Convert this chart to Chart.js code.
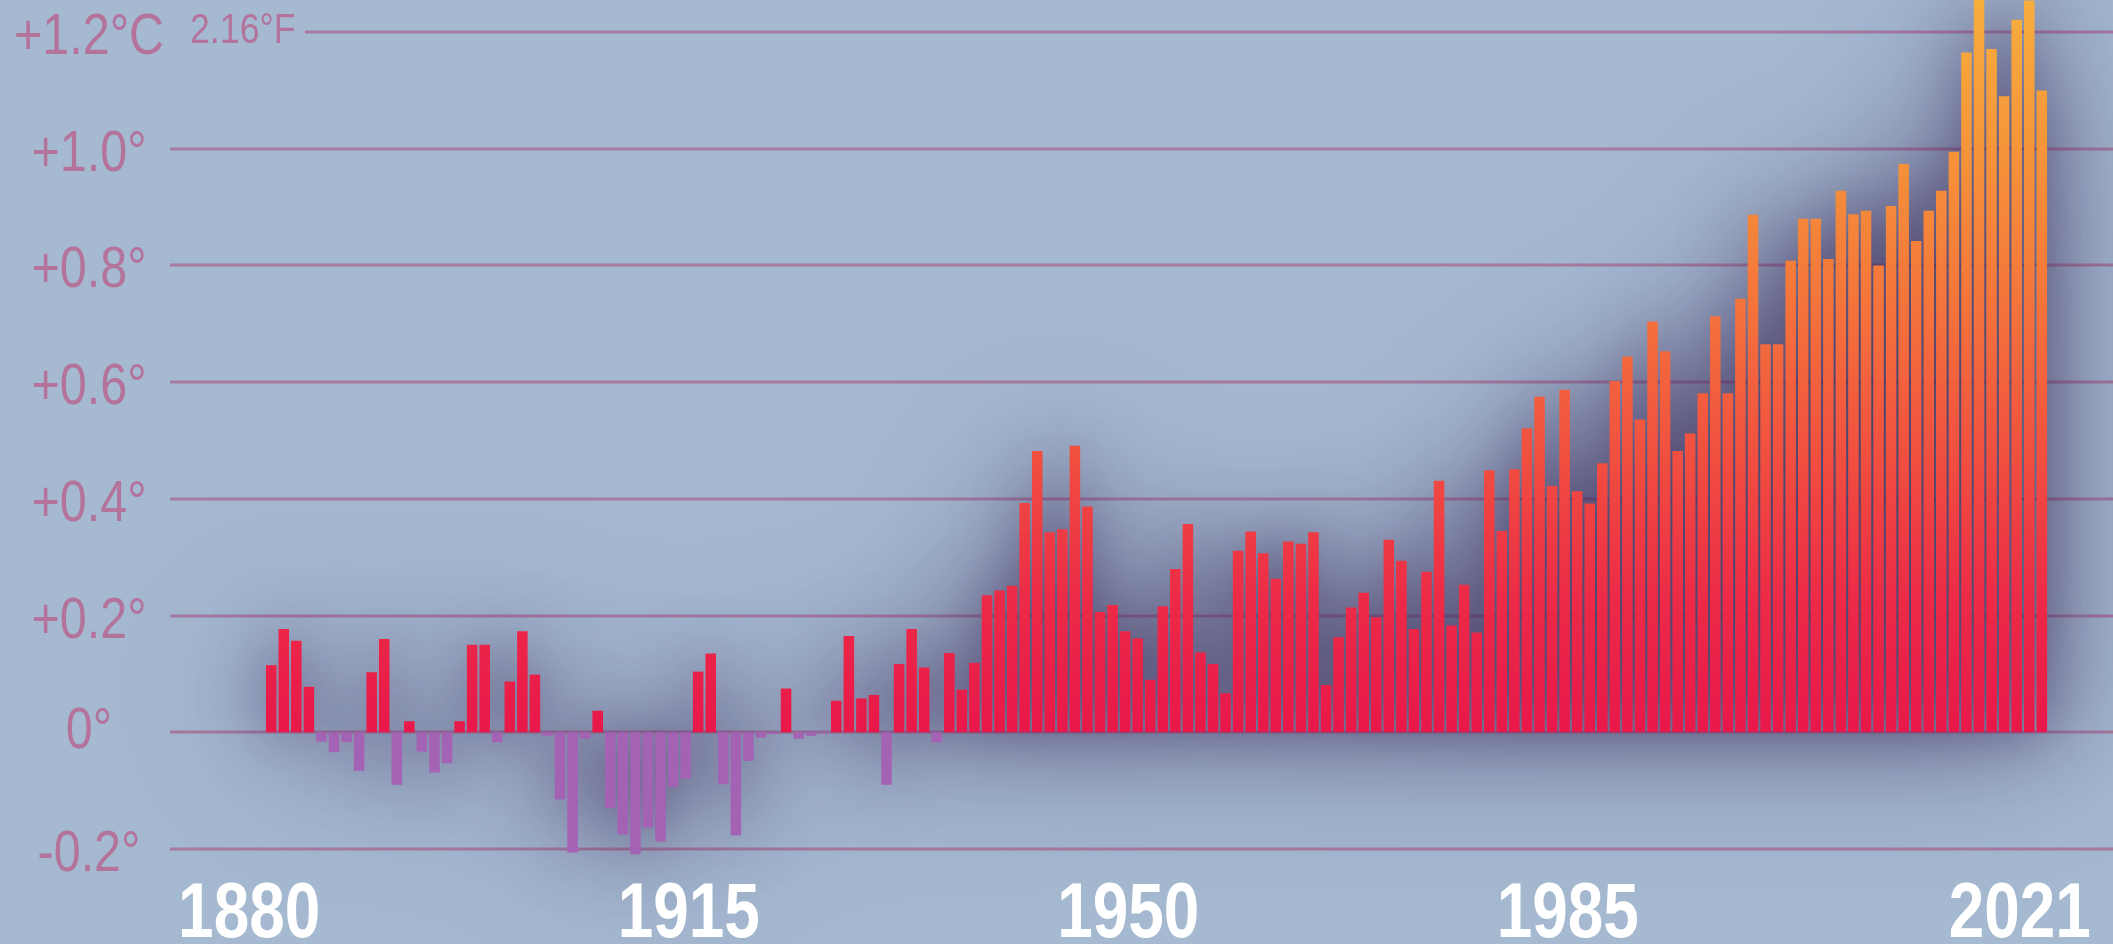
<!DOCTYPE html>
<html>
<head>
<meta charset="utf-8">
<script src="https://cdn.jsdelivr.net/npm/chart.js@4.4.1/dist/chart.umd.min.js"></script>
<style>
  html, body { margin: 0; padding: 0; background: #a5b9d1; overflow: hidden; }
  #wrap { width: 2113px; height: 944px; }
</style>
</head>
<body>
<div id="wrap"><canvas id="tempChart" width="2113" height="944"></canvas></div>
<script>
// yearly anomaly, degrees C, 1880..2021
const firstYear = 1880;
const anomalies = [
  0.115, 0.177, 0.157, 0.078, -0.016, -0.034, -0.017, -0.066, 0.103, 0.160,   // 1880s
  -0.090, 0.019, -0.033, -0.069, -0.053, 0.019, 0.150, 0.150, -0.017, 0.087,  // 1890s
  0.173, 0.099, -0.006, -0.115, -0.206, -0.011, 0.037, -0.130, -0.175, -0.209, // 1900s
  -0.163, -0.187, -0.094, -0.079, 0.104, 0.135, -0.089, -0.177, -0.049, -0.009, // 1910s
  -0.003, 0.075, -0.011, -0.006, -0.002, 0.054, 0.165, 0.058, 0.064, -0.090,  // 1920s
  0.117, 0.177, 0.111, -0.017, 0.136, 0.073, 0.119, 0.235, 0.243, 0.251,      // 1930s
  0.393, 0.482, 0.343, 0.348, 0.491, 0.387, 0.206, 0.218, 0.173, 0.161,      // 1940s
  0.090, 0.216, 0.280, 0.357, 0.137, 0.117, 0.067, 0.311, 0.344, 0.307,      // 1950s
  0.263, 0.327, 0.323, 0.343, 0.081, 0.163, 0.214, 0.239, 0.197, 0.330,      // 1960s
  0.294, 0.177, 0.275, 0.431, 0.183, 0.253, 0.171, 0.449, 0.345, 0.451,      // 1970s
  0.521, 0.575, 0.422, 0.587, 0.413, 0.392, 0.461, 0.602, 0.644, 0.536,      // 1980s
  0.704, 0.653, 0.482, 0.512, 0.581, 0.713, 0.581, 0.743, 0.887, 0.665,      // 1990s
  0.665, 0.808, 0.880, 0.880, 0.811, 0.928, 0.888, 0.894, 0.800, 0.902,      // 2000s
  0.974, 0.842, 0.894, 0.928, 0.995, 1.165, 1.260, 1.171, 1.090, 1.221,      // 2010s
  1.254, 1.100                                                               // 2020s
];
const years = anomalies.map((_, i) => firstYear + i);

const labelYears = [1880, 1915, 1950, 1985, 2021];
const tickValues = [-0.2, 0, 0.2, 0.4, 0.6, 0.8, 1.0, 1.2];
const tickLabels = ['-0.2°', '0°', '+0.2°', '+0.4°', '+0.6°', '+0.8°', '+1.0°', '+1.2°C'];
const topNote = '2.16°F';

const sans = "'Liberation Sans', Arial, sans-serif";
const labelColor = '#b3739b';
const gridColor = 'rgba(166,112,150,0.85)';
const coolColor = '#a462b4';
const warmStops = [[0, '#e8184a'], [0.18, '#ec2a47'], [0.35, '#f04a40'], [0.6, '#f4763b'], [0.8, '#f5943a'], [1, '#f7ae3d']];

let warmGradient = null;
function barColor(c) {
  const v = c.parsed ? c.parsed.y : 0;
  if (v < 0) return coolColor;
  const { chart } = c;
  if (!chart.chartArea) return warmStops[0][1];
  if (!warmGradient) {
    const y = chart.scales.y;
    warmGradient = chart.ctx.createLinearGradient(0, y.getPixelForValue(0), 0, y.getPixelForValue(1.25));
    warmStops.forEach(([p, col]) => warmGradient.addColorStop(p, col));
  }
  return warmGradient;
}

// condensed text: squeeze the glyphs horizontally around (x, y)
function narrowText(ctx, text, x, y, squeeze, align) {
  ctx.save();
  ctx.translate(x, y);
  ctx.scale(squeeze, 1);
  ctx.textAlign = align;
  ctx.fillText(text, 0, 0);
  ctx.restore();
}

// grid lines and the dark glow behind the bars
const backdrop = {
  id: 'backdrop',
  beforeDatasetsDraw(chart) {
    const { ctx, width } = chart;
    const y = chart.scales.y;
    ctx.save();
    ctx.strokeStyle = gridColor;
    ctx.lineWidth = 3;
    y.ticks.forEach((t) => {
      const py = Math.round(y.getPixelForValue(t.value));
      const x0 = t.value === 1.2 ? 305 : chart.chartArea.left;
      ctx.beginPath();
      ctx.moveTo(x0, py);
      ctx.lineTo(width, py);
      ctx.stroke();
    });

    const meta = chart.getDatasetMeta(0);
    const shift = 10000;
    ctx.shadowOffsetX = shift;
    ctx.fillStyle = '#000';
    ctx.beginPath();
    meta.data.forEach((bar) => {
      const top = Math.min(bar.y, bar.base);
      ctx.rect(bar.x - bar.width / 2 - shift, top, bar.width, Math.abs(bar.base - bar.y));
    });
    // wide soft glow, then a tighter darker one
    [[150, 'rgba(58,40,86,0.7)'], [60, 'rgba(58,40,86,0.6)']].forEach(([blur, col]) => {
      ctx.shadowBlur = blur;
      ctx.shadowColor = col;
      ctx.fill();
    });
    ctx.restore();
  }
};

// axis labels in a condensed cut, placed from the scales' own ticks
const axisText = {
  id: 'axisText',
  afterDraw(chart) {
    const { ctx } = chart;
    const { x, y } = chart.scales;
    ctx.save();
    ctx.textBaseline = 'alphabetic';

    ctx.fillStyle = labelColor;
    ctx.font = `57px ${sans}`;
    y.ticks.forEach((t) => {
      const label = tickLabels[tickValues.indexOf(t.value)];
      const py = y.getPixelForValue(t.value);
      narrowText(ctx, label, 89, py + (t.value === 0 ? 16 : 22), 0.85, 'center');
    });
    ctx.font = `42px ${sans}`;
    narrowText(ctx, topNote, 190, y.getPixelForValue(1.2) + 11, 0.85, 'left');

    ctx.fillStyle = '#ffffff';
    ctx.font = `bold 77px ${sans}`;
    x.ticks.forEach((t) => {
      narrowText(ctx, String(t.value), x.getPixelForValue(t.value) - 22, 937, 0.83, 'center');
    });
    ctx.restore();
  }
};

new Chart(document.getElementById('tempChart'), {
  type: 'bar',
  data: {
    datasets: [{
      data: years.map((yr, i) => ({ x: yr, y: anomalies[i] })),
      backgroundColor: barColor,
      borderWidth: 0,
      barPercentage: 0.84,
      categoryPercentage: 1
    }]
  },
  options: {
    responsive: false,
    animation: false,
    devicePixelRatio: 1,
    layout: { padding: 0 },
    plugins: { legend: { display: false }, tooltip: { enabled: false } },
    scales: {
      x: {
        type: 'linear',
        offset: false,
        min: 1871.94,
        max: 2026.67,
        grid: { display: false, drawTicks: false, offset: false },
        border: { display: false },
        afterBuildTicks: (scale) => { scale.ticks = labelYears.map((v) => ({ value: v })); },
        afterFit: (scale) => { scale.height = 74; },
        ticks: { display: false }
      },
      y: {
        min: -0.236,
        max: 1.255,
        grid: { display: false, drawTicks: false },
        border: { display: false },
        afterBuildTicks: (scale) => { scale.ticks = tickValues.map((v) => ({ value: v })); },
        afterFit: (scale) => { scale.width = 170; },
        ticks: { display: false }
      }
    }
  },
  plugins: [backdrop, axisText]
});
</script>
</body>
</html>
